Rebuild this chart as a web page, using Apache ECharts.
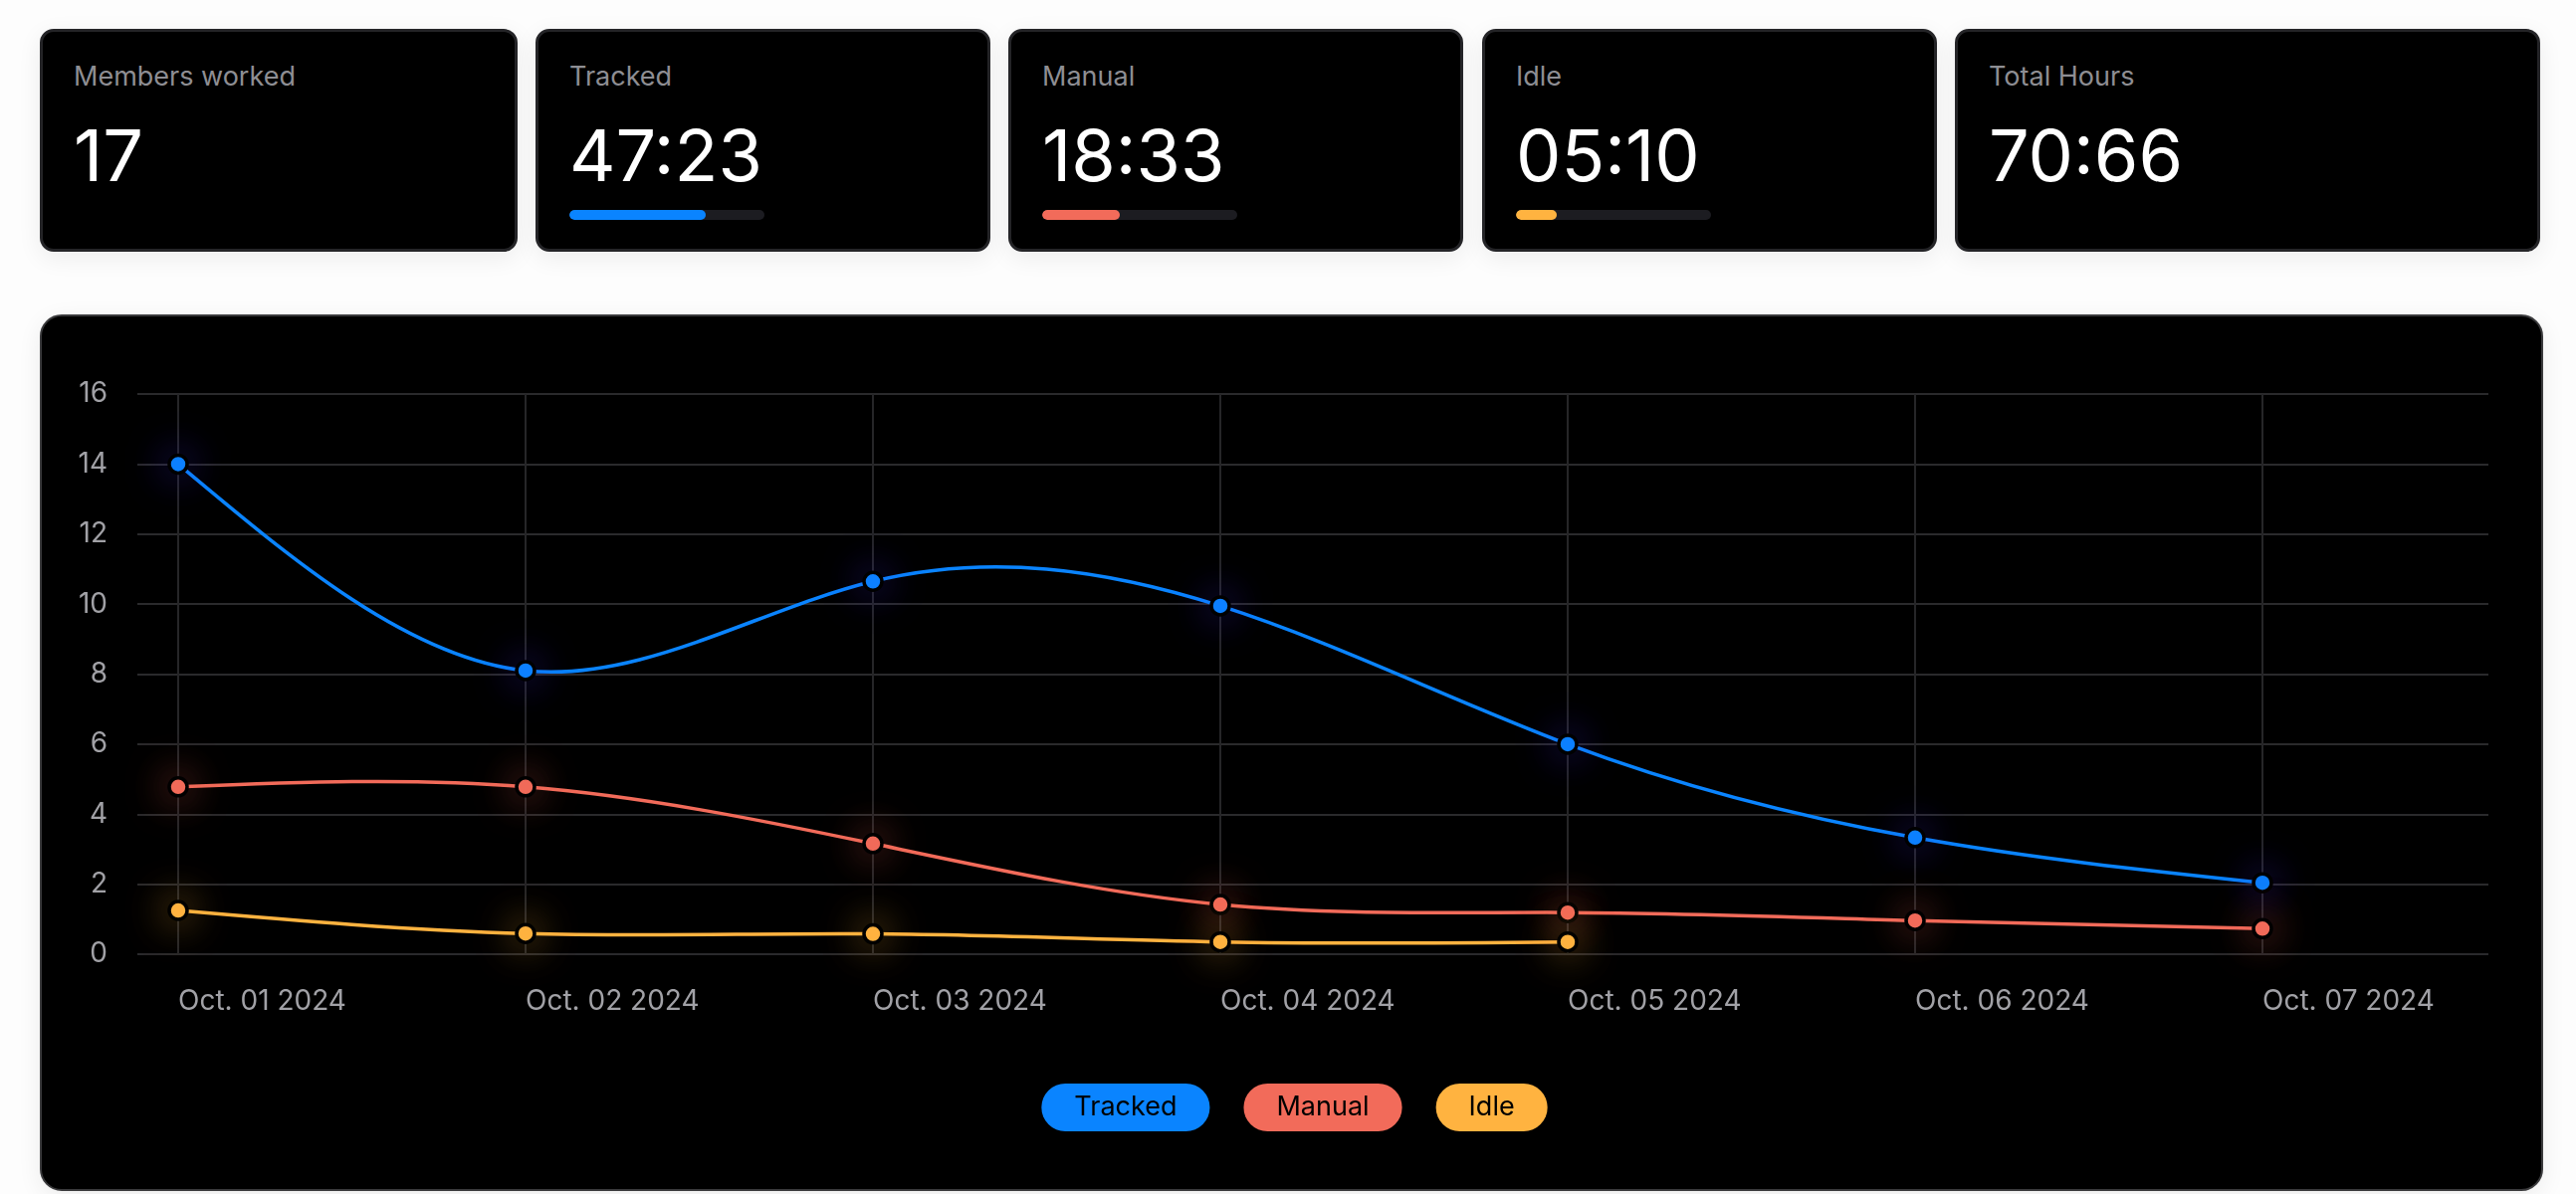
<!DOCTYPE html>
<html>
<head>
<meta charset="utf-8">
<script src="https://cdn.jsdelivr.net/npm/echarts@6/dist/echarts.min.js"></script>
<style>
  html, body { margin: 0; padding: 0; background: #fdfdfd; width: 2588px; height: 1200px; overflow: hidden; font-family: Inter, "Noto Sans", sans-serif; }
  .card { position: absolute; top: 29px; height: 224px; box-sizing: border-box; background: #000; border: 3px solid #242427; border-radius: 14px; box-shadow: 0 6px 24px rgba(0,0,0,0.07); }
  .card .lbl { position: absolute; left: 31px; top: 29px; font-size: 27px; color: #8e8e93; line-height: 32px; }
  .card .val { position: absolute; left: 31px; top: 79px; font-size: 72px; color: #fff; line-height: 90px; font-weight: 400; }
  .card .bar { position: absolute; left: 31px; top: 179px; width: 196px; height: 10px; border-radius: 5px; background: #1c1c21; overflow: hidden; }
  .card .bar i { display: block; height: 100%; border-radius: 5px; }
  #panel { position: absolute; left: 40px; top: 316px; width: 2515px; height: 881px; box-sizing: border-box; background: #000; border: 2px solid #3a3a3c; border-radius: 22px; box-shadow: 0 6px 24px rgba(0,0,0,0.07); }
  #chart { position: absolute; left: 0; top: 0; width: 2511px; height: 877px; }
</style>
</head>
<body>
<div id="cards"></div>
<div id="panel"><div id="chart"></div></div>
<script>
// ---- data ----
const cardLabels = ['Members worked', 'Tracked', 'Manual', 'Idle', 'Total Hours'];
const cardValues = ['17', '47:23', '18:33', '05:10', '70:66'];
const cardProgress = [null, 0.70, 0.40, 0.21, null];

const categories = ['Oct. 01 2024', 'Oct. 02 2024', 'Oct. 03 2024', 'Oct. 04 2024', 'Oct. 05 2024', 'Oct. 06 2024', 'Oct. 07 2024'];
const seriesNames = ['Tracked', 'Manual', 'Idle'];
const tracked = [14, 8.1, 10.65, 9.95, 6, 3.33, 2.04];
const manual = [4.78, 4.78, 3.16, 1.42, 1.19, 0.96, 0.73];
const idle = [1.25, 0.59, 0.58, 0.35, 0.35, null, null];
const yMin = 0, yMax = 16, yStep = 2;

// ---- styles ----
const colors = { Tracked: '#0a84ff', Manual: '#f26b5a', Idle: '#ffb340' };
const glows = { Tracked: 'rgba(80,60,255,0.6)', Manual: 'rgba(242,107,90,0.7)', Idle: 'rgba(255,179,64,0.7)' };
const progColors = [null, colors.Tracked, colors.Manual, colors.Idle, null];
const cardBoxes = [[40, 480], [538, 457], [1013, 457], [1489, 457], [1964, 588]];

// ---- cards ----
const cardsEl = document.getElementById('cards');
cardLabels.forEach((lbl, i) => {
  const c = document.createElement('div');
  c.className = 'card';
  c.style.left = cardBoxes[i][0] + 'px';
  c.style.width = cardBoxes[i][1] + 'px';
  let html = '<div class="lbl">' + lbl + '</div><div class="val">' + cardValues[i] + '</div>';
  if (cardProgress[i] != null) {
    html += '<div class="bar"><i style="width:' + (cardProgress[i] * 100) + '%;background:' + progColors[i] + '"></i></div>';
  }
  c.innerHTML = html;
  cardsEl.appendChild(c);
});

// ---- natural cubic spline slopes (per category step) for each contiguous run ----
function splineSlopes(values) {
  const out = values.map(() => null);
  let k = 0;
  while (k < values.length) {
    if (values[k] == null) { k++; continue; }
    let e = k;
    while (e + 1 < values.length && values[e + 1] != null) e++;
    const y = values.slice(k, e + 1), n = y.length;
    const M = new Array(n).fill(0);
    if (n > 2) {
      const m = n - 2, c = new Array(m), d = new Array(m);
      for (let i = 0; i < m; i++) {
        const rhs = 6 * (y[i + 2] - 2 * y[i + 1] + y[i]);
        if (i === 0) { c[i] = 1 / 4; d[i] = rhs / 4; }
        else { const den = 4 - c[i - 1]; c[i] = 1 / den; d[i] = (rhs - d[i - 1]) / den; }
      }
      for (let i = m - 1; i >= 0; i--) M[i + 1] = d[i] - (i < m - 1 ? c[i] * M[i + 2] : 0);
    }
    for (let i = 0; i < n - 1; i++) {
      const dy = y[i + 1] - y[i];
      out[k + i] = { m0: dy - (2 * M[i] + M[i + 1]) / 6, m1: dy + (M[i] + 2 * M[i + 1]) / 6 };
    }
    k = e + 1;
  }
  return out;
}

function makeSegmentRenderer(values) {
  const slopes = splineSlopes(values);
  return function (params, api) {
    const i = params.dataIndex;
    const s = slopes[i];
    if (!s || values[i] == null || values[i + 1] == null) return null;
    const a = api.coord([i, values[i]]);
    const b = api.coord([i + 1, values[i + 1]]);
    const c1y = api.coord([i, values[i] + s.m0 / 3])[1];
    const c2y = api.coord([i + 1, values[i + 1] - s.m1 / 3])[1];
    return {
      type: 'bezierCurve',
      shape: { x1: a[0], y1: a[1], x2: b[0], y2: b[1], cpx1: a[0] + (b[0] - a[0]) / 3, cpy1: c1y, cpx2: a[0] + 2 * (b[0] - a[0]) / 3, cpy2: c2y },
      style: { stroke: api.visual('color'), lineWidth: 3.5, fill: null, lineCap: 'round' },
      silent: true
    };
  };
}

// ---- chart ----
const chart = echarts.init(document.getElementById('chart'), null, { renderer: 'canvas' });
const dataMap = { Tracked: tracked, Manual: manual, Idle: idle };
const font = 'Inter';

const lineSeries = seriesNames.map(n => ({
  name: n + ' curve', type: 'custom', xAxisIndex: 1, yAxisIndex: 1, clip: false, z: 2,
  itemStyle: { color: colors[n] },
  renderItem: makeSegmentRenderer(dataMap[n]),
  data: dataMap[n].slice(0, -1).map((v, k) => [k, v == null ? 0 : v]),
  encode: { x: 0, y: 1 },
  silent: true
}));

const markerSeries = seriesNames.map(n => ({
  name: n, type: 'line', xAxisIndex: 1, yAxisIndex: 1, z: 3,
  data: dataMap[n],
  symbol: 'circle', symbolSize: 18, showSymbol: true,
  lineStyle: { width: 0, opacity: 0, color: colors[n] },
  itemStyle: { color: colors[n], borderColor: '#000', borderWidth: 3.5, shadowBlur: 40, shadowColor: glows[n] },
  emphasis: { disabled: true }
}));

const option = {
  backgroundColor: 'transparent',
  animation: false,
  grid: [
    { left: 96, right: 53, top: 78, bottom: 236 },
    { left: 137, right: 280, top: 78, bottom: 236 }
  ],
  xAxis: [
    { gridIndex: 0, type: 'value', show: false, min: 0, max: 1 },
    {
      gridIndex: 1, type: 'category', data: categories, boundaryGap: false,
      axisLine: { show: false }, axisTick: { show: false },
      axisLabel: { color: '#a1a1a6', fontSize: 28, fontFamily: font, align: 'left', margin: 34, interval: 0 },
      splitLine: { show: true, lineStyle: { color: '#262628', width: 2 } }
    }
  ],
  yAxis: [
    {
      gridIndex: 0, type: 'value', min: yMin, max: yMax, interval: yStep,
      axisLine: { show: false }, axisTick: { show: false },
      axisLabel: { color: '#a1a1a6', fontSize: 28, fontFamily: font, margin: 30 },
      splitLine: { lineStyle: { color: '#39393b', width: 1.5 } }
    },
    { gridIndex: 1, type: 'value', min: yMin, max: yMax, interval: yStep, show: false, splitLine: { show: false } }
  ],
  legend: {
    top: 766,
    left: 'center',
    itemWidth: 0, itemHeight: 0, itemGap: 28,
    selectedMode: false,
    icon: 'rect',
    textStyle: { fontSize: 27, fontFamily: font, color: '#000', borderRadius: 24, padding: [10, 33], lineHeight: 28 },
    data: seriesNames.map(n => ({ name: n, textStyle: { backgroundColor: colors[n] } }))
  },
  series: lineSeries.concat(markerSeries)
};
chart.setOption(option);
</script>
</body>
</html>
